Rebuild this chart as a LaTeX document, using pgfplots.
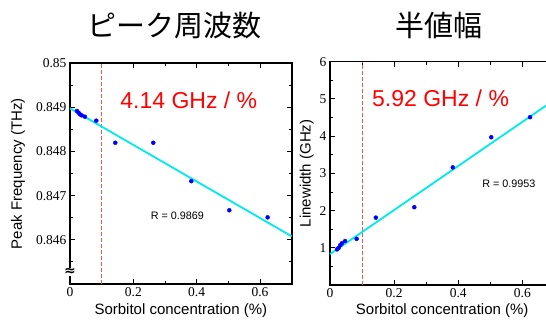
\documentclass[border=0pt]{standalone}
\usepackage{pgfplots}
\pgfplotsset{compat=1.18}
\usepackage{fontspec}
\setmainfont{Liberation Sans}
\newfontfamily\tickfont{Liberation Serif}
\newfontfamily\cjk{Noto Sans CJK JP}
\newfontfamily\djv{DejaVu Sans}
\definecolor{fitcyan}{RGB}{0,235,235}
\definecolor{ptblue}{RGB}{0,0,255}
\definecolor{vred}{RGB}{255,80,80}
\pgfplotsset{
  myaxis/.style={
    scale only axis, anchor=south west,
    axis line style={line width=1.6pt},
    every tick/.style={black, line width=0.9pt},
    major tick length=5pt, minor tick length=3pt,
    tick align=inside,
    tick label style={font=\tickfont\fontsize{13.5}{14}\selectfont},
    /pgf/number format/assume math mode=true,
    xmin=0, xmax=0.7,
    xtick={0,0.2,0.4,0.6}, minor xtick={0.1,0.3,0.5,0.7},
    xticklabels={0,0.2,0.4,0.6},
    label style={font=\fontsize{15}{16}\selectfont},
    title style={font=\cjk\fontsize{29}{30}\selectfont, anchor=center},
    clip=false,
  },
  fit/.style={draw=fitcyan, line width=1.8pt, mark=none},
  pts/.style={only marks, mark=*, mark size=2pt, draw=ptblue, fill=ptblue},
  vline/.style={draw=vred, line width=1pt, mark=none, dash pattern=on 3.5pt off 2.5pt},
}
\begin{document}
\begin{tikzpicture}
\useasboundingbox (0,0) rectangle (546pt,320pt);
\clip (0,0) rectangle (546pt,320pt);
\begin{axis}[myaxis, at={(70pt,36pt)}, width=221.7pt, height=220.7pt,
  ymin=0.845, ymax=0.85,
  ytick={0.846,0.847,0.848,0.849,0.85},
  yticklabels={0.846,0.847,0.848,0.849,0.85},
  minor ytick={0.8455,0.8465,0.8475,0.8485,0.8495},
  xlabel={Sorbitol concentration (\%)},
  ylabel={Peak Frequency (THz)},
  xlabel style={at={(axis description cs:0.5,-0.1223)}, anchor=center},
  ylabel style={at={(axis description cs:-0.2345,0.5)}, anchor=center},
  title={ピーク周波数},
  title style={at={(axis description cs:0.473,1)}, yshift=32pt},
  after end axis/.code={
    \node[fill=white, inner sep=0.3pt, font=\djv\bfseries\fontsize{14}{14}\selectfont] at (axis cs:0,0.84528) {≈};
  },
]
\addplot[vline] coordinates {(0.1,0.845) (0.1,0.85)};
\addplot[fit] coordinates {(0,0.84898) (0.7,0.84608)};
\addplot[pts] coordinates {
(0.022,0.84892) (0.027,0.84888) (0.032,0.84884) (0.037,0.84882) (0.047,0.84879)
(0.083,0.84870) (0.143,0.84820) (0.263,0.84820) (0.383,0.84733) (0.503,0.84667) (0.624,0.84651)};
\node[text=red, font=\fontsize{23}{24}\selectfont] at (axis cs:0.375,0.849166) {4.14 GHz / \%};
\node[font=\fontsize{10.8}{12}\selectfont] at (axis cs:0.339,0.846536) {R = 0.9869};
\end{axis}
\begin{axis}[myaxis, at={(330pt,35pt)}, width=224.4pt, height=223.3pt,
  ymin=0, ymax=6,
  ytick={1,2,3,4,5,6},
  yticklabels={1,2,3,4,5,6},
  minor ytick={0.5,1.5,2.5,3.5,4.5,5.5},
  xlabel={Sorbitol concentration (\%)},
  ylabel={Linewidth (GHz)},
  xlabel style={at={(axis description cs:0.5,-0.1164)}, anchor=center},
  ylabel style={at={(axis description cs:-0.104,0.5)}, anchor=center},
  title={半値幅},
  title style={at={(axis description cs:0.486,1)}, yshift=30.7pt},
]
\addplot[vline] coordinates {(0.1,0) (0.1,6)};
\addplot[fit] coordinates {(0,0.83) (0.7,4.974)};
\addplot[pts] coordinates {
(0.022,0.957) (0.027,1.00) (0.032,1.07) (0.037,1.12) (0.047,1.18)
(0.083,1.24) (0.143,1.81) (0.263,2.09) (0.383,3.16) (0.503,3.97) (0.624,4.51)};
\node[text=red, font=\fontsize{23}{24}\selectfont] at (axis cs:0.345,5.016) {5.92 GHz / \%};
\node[font=\fontsize{10.8}{12}\selectfont] at (axis cs:0.558,2.73) {R = 0.9953};
\end{axis}
\end{tikzpicture}
\end{document}
